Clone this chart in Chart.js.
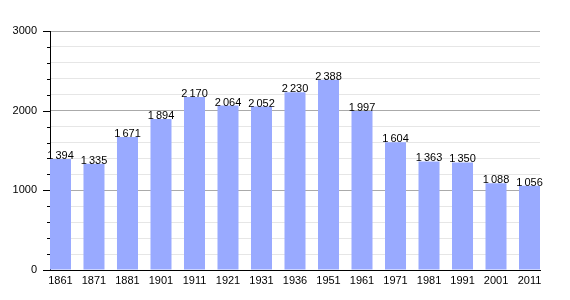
<!DOCTYPE html>
<html>
<head>
<meta charset="utf-8">
<script src="https://cdn.jsdelivr.net/npm/chart.js@4"></script>
<style>
  html, body { margin: 0; padding: 0; background: #fff; }
  #wrap { width: 570px; height: 300px; }
</style>
</head>
<body>
<div id="wrap"><canvas id="c" width="570" height="300"></canvas></div>
<script>
// population by census year
const years = ['1861', '1871', '1881', '1901', '1911', '1921', '1931', '1936', '1951', '1961', '1971', '1981', '1991', '2001', '2011'];
const population = [1394, 1335, 1671, 1894, 2170, 2064, 2052, 2230, 2388, 1997, 1604, 1363, 1350, 1088, 1056];
const yTicks = [0, 1000, 2000, 3000];

const FONT = 'Liberation Sans, Arial, sans-serif';

// thin space as thousands separator, like the original
const fmt = v => v >= 1000 ? Math.floor(v / 1000) + '\u2009' + String(v % 1000).padStart(3, '0') : String(v);

// ── value labels above bars + y ticks (major long, minor short) ──
const extras = {
  id: 'extras',
  afterDraw(chart) {
    const ctx = chart.ctx;
    const meta = chart.getDatasetMeta(0);
    ctx.save();

    const y = chart.scales.y;
    ctx.strokeStyle = '#000';
    ctx.lineWidth = 1;
    y.ticks.forEach(t => {
      const py = Math.round(y.getPixelForValue(t.value)) + 0.5;
      const len = yTicks.includes(t.value) ? 7 : 3;
      ctx.beginPath();
      ctx.moveTo(y.right - len, py);
      ctx.lineTo(y.right, py);
      ctx.stroke();
    });

    ctx.font = '11px ' + FONT;
    ctx.fillStyle = '#000';
    ctx.textAlign = 'center';
    ctx.textBaseline = 'middle';
    meta.data.forEach((bar, i) => {
      ctx.fillText(fmt(population[i]), bar.x, bar.y - 3);
    });
    ctx.restore();
  }
};

new Chart(document.getElementById('c'), {
  type: 'bar',
  data: {
    datasets: [{
      data: population.map((v, i) => ({ x: i, y: v })),
      backgroundColor: '#99aaff',
      borderWidth: 0,
      barPercentage: 0.627,
      categoryPercentage: 1
    }]
  },
  options: {
    responsive: false,
    animation: false,
    layout: { padding: { left: 0, right: 30, top: 31, bottom: 0 } },
    plugins: { legend: { display: false }, tooltip: { enabled: false } },
    scales: {
      x: {
        type: 'linear',
        offset: false,
        min: -0.313,
        max: population.length - 1 + 0.313,
        afterBuildTicks: s => { s.ticks = years.map((_, i) => ({ value: i })); },
        afterFit: s => { s.height = 30; },
        grid: { display: false, drawTicks: false },
        border: { display: true, color: '#000', width: 1 },
        ticks: {
          autoSkip: false,
          maxRotation: 0,
          padding: 4,
          color: '#000',
          font: { family: FONT, size: 11 },
          callback: v => years[v]
        }
      },
      y: {
        min: 0,
        max: 3000,
        afterFit: s => { s.width = 50; },
        grid: {
          drawTicks: false,
          color: c => yTicks.includes(c.tick.value) ? '#aaaaaa' : '#e6e6e6'
        },
        border: { display: true, color: '#000', width: 1 },
        ticks: {
          stepSize: 200,
          autoSkip: false,
          padding: 13,
          color: '#000',
          font: { family: FONT, size: 11 },
          callback: v => yTicks.includes(v) ? String(v) : ''
        }
      }
    }
  },
  plugins: [extras]
});
</script>
</body>
</html>
